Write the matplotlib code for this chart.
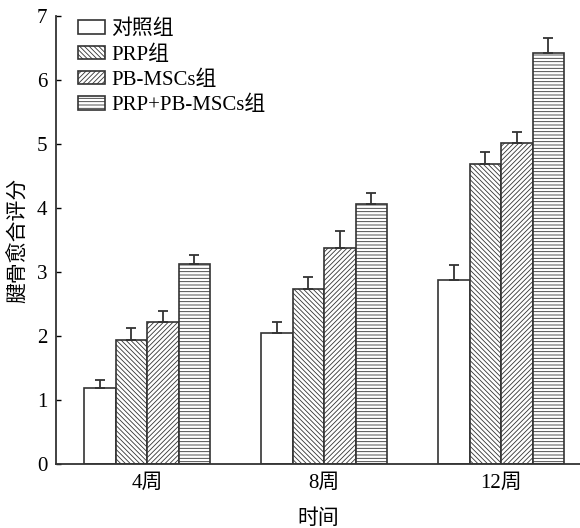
import matplotlib
matplotlib.use("Agg")
import matplotlib.pyplot as plt
import numpy as np

plt.rcParams['font.family'] = ['Liberation Serif', 'Noto Sans CJK SC']
plt.rcParams['hatch.linewidth'] = 0.6

groups = ['4周', '8周', '12周']
series = ['对照组', 'PRP组', 'PB-MSCs组', 'PRP+PB-MSCs组']
ctrl = [1.19, 2.05, 2.88]
prp = [1.94, 2.73, 4.69]
pbmsc = [2.22, 3.38, 5.02]
combo = [3.13, 4.06, 6.42]
ctrl_err = [0.12, 0.17, 0.23]
prp_err = [0.18, 0.19, 0.18]
pbmsc_err = [0.17, 0.26, 0.16]
combo_err = [0.14, 0.17, 0.23]
hatches = ['', '\\\\\\\\\\\\\\', '///////', '-----']

values = [ctrl, prp, pbmsc, combo]
errors = [ctrl_err, prp_err, pbmsc_err, combo_err]

fig = plt.figure(figsize=(5.8, 5.28), dpi=100)
ax = fig.add_axes([0.0957, 0.1212, 0.9043, 0.8485])

x = np.arange(len(groups))
w = 0.178
for i, (name, vals, errs, h) in enumerate(zip(series, values, errors, hatches)):
    pos = x + (i - 1.5) * w
    ax.bar(pos, vals, w, color='white', edgecolor='#333333', linewidth=1.2,
           hatch=h, label=name, zorder=2)
    ax.errorbar(pos, vals, yerr=[np.zeros(len(errs)), errs], fmt='none',
                ecolor='#333333', elinewidth=1.3, capsize=3.3, capthick=1.3, zorder=3)

ax.set_xlim(-0.517, 2.446)
ax.set_ylim(0, 7)
ax.set_yticks(range(0, 8))
ax.set_xticks(x)
ax.set_xticklabels(groups, fontsize=15)
ax.tick_params(axis='y', direction='in', length=3.5, width=1, labelsize=15, pad=6)
ax.tick_params(axis='x', length=0, pad=7)
for s in ['top', 'right']:
    ax.spines[s].set_visible(False)
for s in ['left', 'bottom']:
    ax.spines[s].set_linewidth(1.3)
    ax.spines[s].set_color('#333333')

ax.set_ylabel('腱骨愈合评分', fontsize=15, labelpad=6)
ax.set_xlabel('时间', fontsize=15, labelpad=12)

leg = ax.legend(loc='upper left', bbox_to_anchor=(0.027, 1.01), frameon=False,
                fontsize=15, handlelength=1.3, handleheight=0.62,
                labelspacing=0.28, handletextpad=0.3, borderaxespad=0)

fig.savefig('out.png', dpi=100)
